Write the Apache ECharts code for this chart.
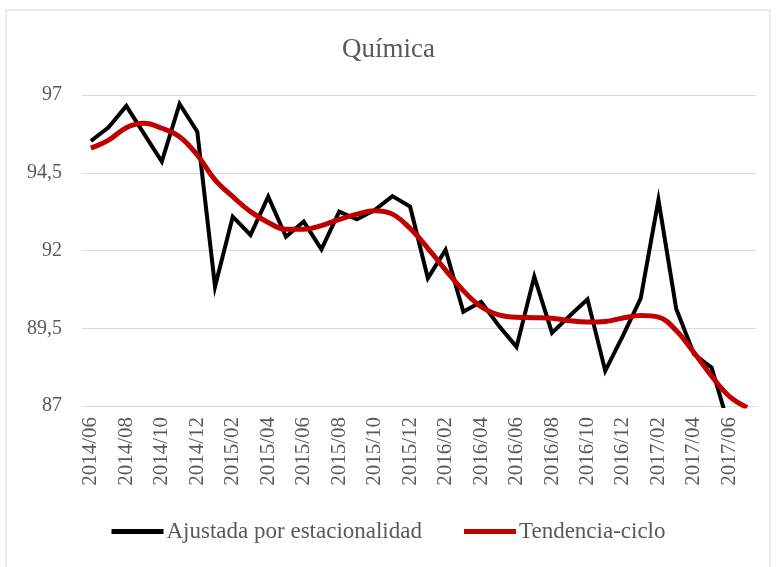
<!DOCTYPE html>
<html><head><meta charset="utf-8">
<script src="https://cdn.jsdelivr.net/npm/echarts@6/dist/echarts.min.js"></script>
<style>html,body{margin:0;padding:0;background:#fff}#c{width:777px;height:567px}</style>
</head><body><div id="c"></div>
<script>
const categories = ["2014/06","2014/07","2014/08","2014/09","2014/10","2014/11","2014/12",
"2015/01","2015/02","2015/03","2015/04","2015/05","2015/06","2015/07","2015/08","2015/09","2015/10","2015/11","2015/12",
"2016/01","2016/02","2016/03","2016/04","2016/05","2016/06","2016/07","2016/08","2016/09","2016/10","2016/11","2016/12",
"2017/01","2017/02","2017/03","2017/04","2017/05","2017/06","2017/07"];
const ajustada = [95.52,95.96,96.65,95.75,94.86,96.71,95.82,
90.84,93.09,92.5,93.73,92.44,92.93,92.04,93.25,93.0,93.3,93.75,93.41,
91.11,92.02,90.03,90.35,89.58,88.9,91.16,89.35,89.9,90.43,88.13,89.26,
90.46,93.63,90.13,88.67,88.23,86.3,86.0];
const tendencia = [95.29,95.55,95.95,96.09,95.93,95.66,95.07,
94.27,93.73,93.25,92.9,92.68,92.68,92.8,93.0,93.17,93.28,93.17,92.71,
92.07,91.37,90.71,90.19,89.93,89.85,89.84,89.82,89.74,89.7,89.72,89.83,
89.91,89.86,89.43,88.72,87.96,87.31,86.95];
const yTicks = {min:87, max:97, interval:2.5};
const font = '"Liberation Serif", serif';
const chart = echarts.init(document.getElementById('c'));
chart.setOption({
  animation:false,
  backgroundColor:'#fff',
  graphic:[{type:'rect',shape:{x:6,y:10,width:764,height:620},style:{fill:'none',stroke:'#d9d9d9',lineWidth:1},silent:true}],
  title:{text:'Química',left:'center',top:31,textStyle:{fontFamily:font,fontSize:27,fontWeight:'normal',color:'#595959'}},
  grid:{left:82,right:21,top:95,bottom:161,containLabel:false},
  legend:{bottom:19,left:'center',itemWidth:52,itemHeight:5,itemGap:42,
    textStyle:{fontFamily:font,fontSize:23,color:'#595959',padding:[0,0,0,-2]},
    data:[{name:'Ajustada por estacionalidad',icon:'rect'},{name:'Tendencia-ciclo',icon:'rect'}]},
  xAxis:{type:'category',data:categories,boundaryGap:true,
    axisLine:{show:true,lineStyle:{color:'#d9d9d9',width:1}},axisTick:{show:false},
    axisLabel:{interval:1,rotate:90,margin:11,fontFamily:font,fontSize:21,color:'#595959'}},
  yAxis:{type:'value',min:yTicks.min,max:yTicks.max,interval:yTicks.interval,
    axisLine:{show:false},axisTick:{show:false},
    splitLine:{lineStyle:{color:'#d9d9d9',width:1}},
    axisLabel:{margin:20,fontFamily:font,fontSize:20,color:'#595959',
      formatter:v=>String(v).replace('.',',')}},
  series:[
    {name:'Ajustada por estacionalidad',type:'line',data:ajustada,symbol:'none',clip:true,
      lineStyle:{color:'#000',width:4,join:'miter'},itemStyle:{color:'#000'}},
    {name:'Tendencia-ciclo',type:'line',data:tendencia,symbol:'none',smooth:0.4,clip:true,
      lineStyle:{color:'#c00000',width:5},itemStyle:{color:'#c00000'}}
  ]
});
</script></body></html>
